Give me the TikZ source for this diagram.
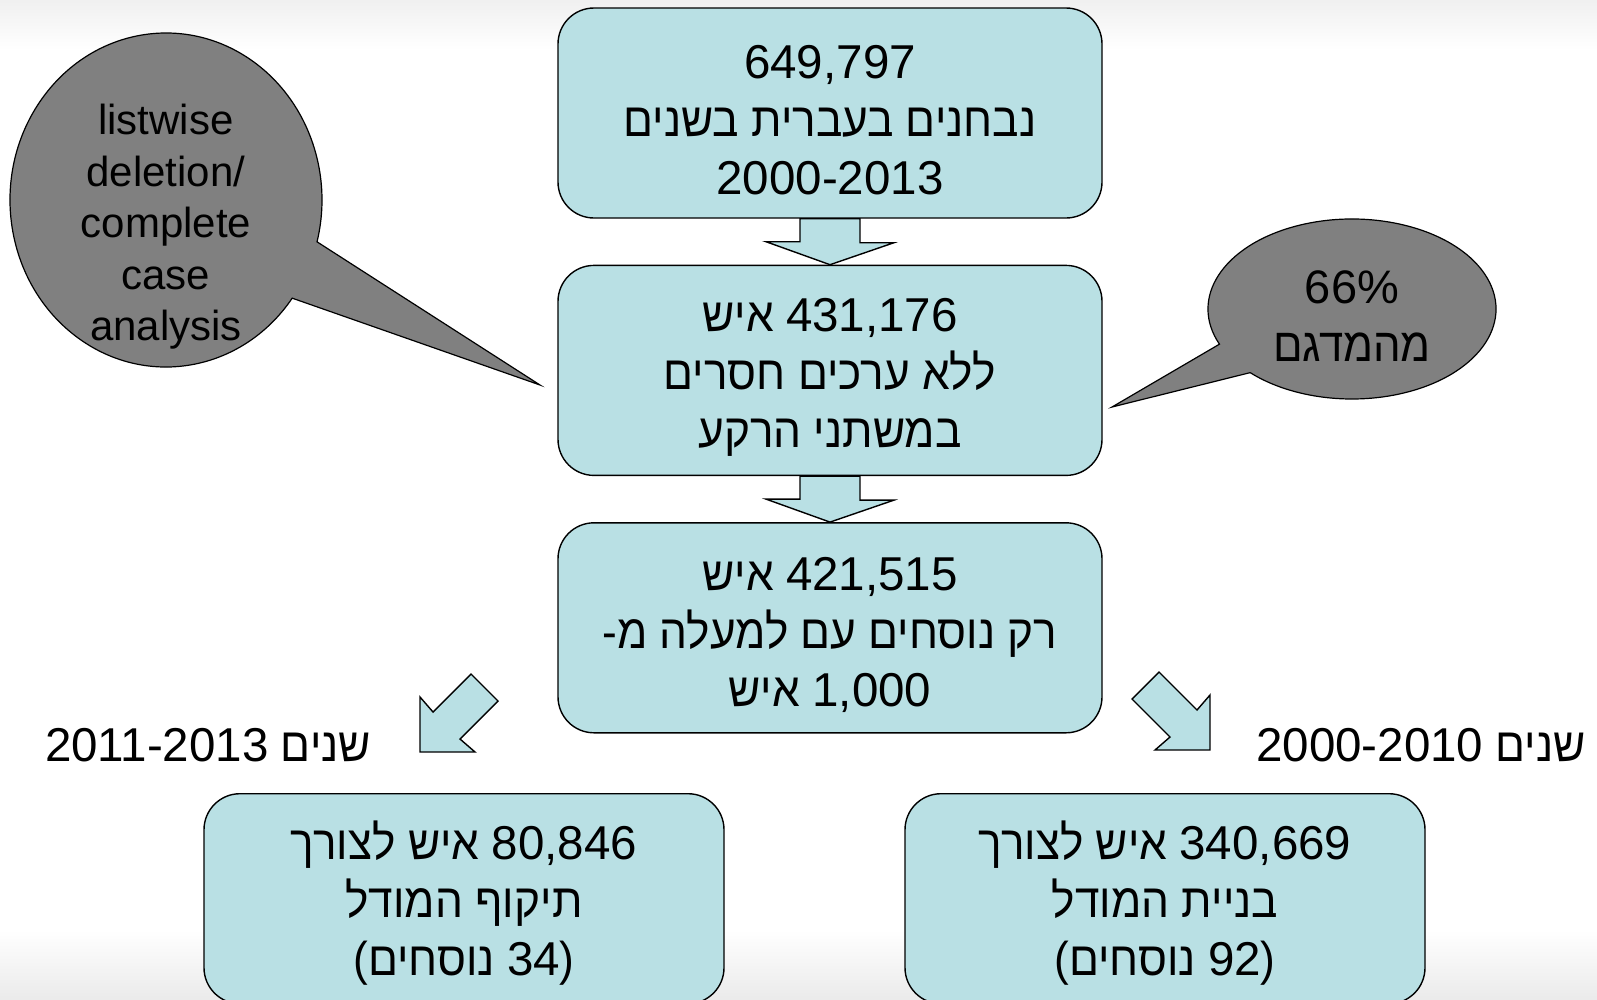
\documentclass[tikz,border=0pt]{standalone}
\usepackage{fontspec}
\setmainfont{Liberation Sans}
\newfontfamily\hebfont[Script=Hebrew, FakeStretch=0.93]{Liberation Sans}
\newcommand{\nums}[1]{{\rmfamily #1}}
\newcommand{\topstrut}{\rule{0pt}{48pt}}
\TeXXeTstate=1
\usetikzlibrary{positioning}
\definecolor{boxfill}{RGB}{185,224,228}
\definecolor{calloutgray}{RGB}{128,128,128}

\begin{document}
\begin{tikzpicture}[
      x=1pt, y=-1pt,
      node distance=46pt,
      flowbox/.style={
        rectangle, draw, line width=1.4pt, rounded corners=36pt, fill=boxfill,
        align=center, minimum width=544pt, minimum height=210pt,
        font=\hebfont\fontsize{47.5}{58}\selectfont,
      },
      blockarrow/.style={draw, line width=1.4pt, fill=boxfill, line join=miter},
      callout/.style={draw, line width=1.2pt, fill=calloutgray},
      calltext/.style={align=center, font=\fontsize{42}{51.5}\selectfont},
      yearlabel/.style={font=\hebfont\fontsize{47.5}{58}\selectfont},
    ]
      % page and background
      \useasboundingbox (0,0) rectangle (1597,999);
      \clip (0,0) rectangle (1597,999);
      \shade[top color=black!6, bottom color=white] (0,0) rectangle (1597,50);
      \shade[top color=white, bottom color=black!8] (0,930) rectangle (1597,999);

      % main flow
      \node[flowbox] (total) at (830,113)
        {\topstrut\nums{649,797}\\ \beginR נבחנים בעברית בשנים\endR\\ \nums{2000-2013}};
      \node[flowbox, below=of total] (nomiss)
        {\topstrut\beginR\nums{431,176} איש\endR\\ \beginR ללא ערכים חסרים\endR\\ \beginR במשתני הרקע\endR};
      \node[flowbox, below=of nomiss] (forms)
        {\topstrut\beginR\nums{421,515} איש\endR\\ \beginR רק נוסחים עם למעלה מ\kern0pt-\endR\\ \beginR\nums{1,000} איש\endR};

      % split
      \node[flowbox, minimum width=520pt, anchor=north] (valid) at (464,793)
        {\topstrut\beginR\nums{80,846} איש לצורך\endR\\ \beginR תיקוף המודל\endR\\ \beginR(\kern0pt\nums{34} נוסחים\kern0pt)\endR};
      \node[flowbox, minimum width=520pt, anchor=north] (build) at (1165,793)
        {\topstrut\beginR\nums{340,669} איש לצורך\endR\\ \beginR בניית המודל\endR\\ \beginR(\kern0pt\nums{92} נוסחים\kern0pt)\endR};

      % block arrows
      \foreach \a/\b in {total/nomiss, nomiss/forms}
        \draw[blockarrow] ([xshift=-30pt]\a.south) -- ++(0,23) -- ++(-34,0)
          -- (\b.north) -- ++(64,-22) -- ++(-34,0) -- ([xshift=30pt]\a.south) -- cycle;

      \coordinate (tipL) at (420,752);
      \coordinate (tipR) at (1210,750);
      \draw[blockarrow] (tipL) -- ++(0,-55) -- ++(13,15) -- ++(38,-38)
        -- ++(27,27) -- ++(-38,38) -- ++(15,13) -- cycle;
      \draw[blockarrow] (tipR) -- ++(0,-55) -- ++(-13,15) -- ++(-38,-38)
        -- ++(-27,27) -- ++(38,38) -- ++(-15,13) -- cycle;

      \node[yearlabel] (testyears) at (208,745) {\beginR שנים \nums{2011-2013}\endR};
      \node[yearlabel] (trainyears) at (1421,745) {\beginR שנים \nums{2000-2010}\endR};

      % callouts
      \coordinate (lwtip) at (540,385);
      \coordinate (smtip) at (1112,407);
      \draw[callout] (166,200) ++(36:156 and 167)
        arc[start angle=36, end angle=374.5, x radius=156, y radius=167] -- (lwtip) -- cycle;
      \node[calltext] (listwise) at (166,227)
        {listwise\\deletion/\\complete\\case\\analysis};

      \draw[callout] (1352,309) ++(157:144 and 90)
        arc[start angle=157, end angle=495, x radius=144, y radius=90] -- (smtip) -- cycle;
      \node[calltext, font=\hebfont\fontsize{47}{58}\selectfont] (sample) at (1352,316)
        {\nums{66\%}\\ \beginR מהמדגם\endR};
    \end{tikzpicture}
\end{document}
